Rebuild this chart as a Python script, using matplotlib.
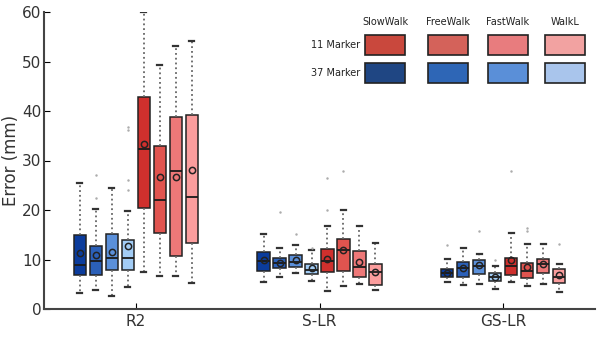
import matplotlib.pyplot as plt
from matplotlib.patches import Rectangle

# methods on the x axis
methods = ['R2', 'S-LR', 'GS-LR']
# box order inside a group: 37 marker (Slow, Free, Fast, WalkL) then 11 marker
conditions = ['SlowWalk', 'FreeWalk', 'FastWalk', 'WalkL']
blue_colors = ['#0b3c9c', '#2b60b8', '#5b90da', '#a2ccf5']
red_colors = ['#cf302d', '#e0544f', '#ee7878', '#fb9d9d']
legend_red = ['#c9483d', '#d4625a', '#e87c7e', '#f2a2a1']
legend_blue = ['#1f4683', '#2e66b6', '#5a8fd8', '#a9c5ec']

# stats per box: whislo, q1, med, q3, whishi, mean
r2_stats = [
    [3.2, 6.9, 8.9, 15.0, 25.5, 11.4],
    [3.8, 6.9, 9.7, 12.7, 20.2, 10.9],
    [2.7, 7.9, 10.4, 15.1, 24.5, 11.6],
    [4.4, 7.9, 10.4, 13.9, 19.7, 12.8],
    [7.4, 20.5, 32.3, 42.9, 60.0, 33.3],
    [6.7, 15.4, 22.0, 32.9, 49.3, 26.7],
    [6.6, 10.7, 27.9, 38.7, 53.1, 26.7],
    [5.3, 13.3, 22.7, 39.1, 54.1, 28.1],
]
slr_stats = [
    [5.5, 7.7, 9.6, 11.6, 15.1, 9.8],
    [6.5, 8.2, 9.2, 10.4, 12.4, 9.2],
    [7.2, 8.4, 9.4, 10.9, 12.9, 10.0],
    [5.7, 7.0, 7.9, 9.1, 11.9, 8.2],
    [3.6, 7.5, 9.6, 12.1, 16.8, 10.2],
    [4.6, 7.7, 11.9, 14.1, 20.1, 11.9],
    [5.1, 6.5, 8.5, 11.7, 16.8, 9.4],
    [3.8, 4.9, 7.4, 9.0, 13.4, 7.4],
]
gslr_stats = [
    [5.4, 6.4, 7.2, 8.0, 10.2, 7.2],
    [4.8, 6.5, 8.2, 9.4, 12.4, 8.3],
    [5.1, 7.1, 8.7, 9.9, 11.1, 8.9],
    [4.0, 5.7, 6.4, 7.2, 8.7, 6.5],
    [5.4, 6.9, 8.7, 10.4, 15.4, 9.8],
    [4.6, 6.2, 7.7, 9.2, 13.1, 8.4],
    [5.1, 7.2, 9.0, 10.2, 13.1, 9.0],
    [3.5, 5.2, 6.4, 8.0, 9.1, 6.9],
]
# outliers per box
r2_fliers = [[], [27.1, 22.4], [], [36.8, 36.2, 26.0, 24.0], [], [], [], []]
slr_fliers = [[], [19.5], [15.2], [12.4], [26.4, 20.1], [27.9], [], []]
gslr_fliers = [[12.9], [], [15.8], [9.9], [27.9], [16.4, 15.8], [], [13.1]]

all_stats = [r2_stats, slr_stats, gslr_stats]
all_fliers = [r2_fliers, slr_fliers, gslr_fliers]
box_colors = blue_colors + red_colors

fig = plt.figure(figsize=(6, 3.37), dpi=100)
ax = fig.add_axes([44 / 600, 1 - 309 / 337, 551 / 600, 297 / 337])

step = 0.087
for g, (stats, fliers) in enumerate(zip(all_stats, all_fliers)):
    bxp = []
    pos = []
    for i, (s, fl) in enumerate(zip(stats, fliers)):
        bxp.append(dict(whislo=s[0], q1=s[1], med=s[2], q3=s[3],
                        whishi=s[4], mean=s[5], fliers=fl))
        pos.append(g + 1 + (i - 3.5) * step)
    res = ax.bxp(bxp, positions=pos, widths=0.068, patch_artist=True,
                 showmeans=True, manage_ticks=False,
                 boxprops=dict(edgecolor='#222222', linewidth=1.1),
                 medianprops=dict(color='#1a1a1a', linewidth=1.3),
                 whiskerprops=dict(color='#666666', linestyle=':', linewidth=1.3),
                 capprops=dict(color='#333333', linewidth=1.6),
                 capwidths=0.028,
                 meanprops=dict(marker='o', markerfacecolor='none',
                                markeredgecolor='#222222', markersize=4.5,
                                markeredgewidth=1.1),
                 flierprops=dict(marker='.', markersize=1.5, color='#aaaaaa',
                                 markeredgecolor='#aaaaaa'))
    for patch, c in zip(res['boxes'], box_colors):
        patch.set_facecolor(c)

ax.set_xlim(0.5, 3.5)
ax.set_ylim(0, 60)
ax.set_xticks([1, 2, 3])
ax.set_xticklabels(methods, fontsize=11, color='#333333')
ax.set_yticks([0, 10, 20, 30, 40, 50, 60])
ax.tick_params(axis='y', labelsize=11, labelcolor='#333333', direction='in',
               length=4, pad=2)
ax.tick_params(axis='x', direction='in', length=4)
ax.set_ylabel('Error (mm)', fontsize=12, color='#333333')
ax.yaxis.set_label_coords(-0.043, 0.5)
for side in ['top', 'right']:
    ax.spines[side].set_visible(False)
for side in ['left', 'bottom']:
    ax.spines[side].set_color('#444444')
    ax.spines[side].set_linewidth(1.5)

# legend table at top right
col_x = [385, 448, 508, 565]
for name, x in zip(conditions, col_x):
    fig.text(x / 600, 1 - 22 / 337, name, ha='center', va='center',
             fontsize=7, color='#222222')
rows = [('11 Marker', 45, legend_red), ('37 Marker', 73, legend_blue)]
for label, y, cols in rows:
    fig.text(360 / 600, 1 - y / 337, label, ha='right', va='center',
             fontsize=7, color='#222222')
    for x, c in zip(col_x, cols):
        fig.add_artist(Rectangle(((x - 20) / 600, 1 - (y + 10) / 337),
                                 40 / 600, 20 / 337, transform=fig.transFigure,
                                 facecolor=c, edgecolor='#222222', linewidth=1.2))

fig.savefig('out.png', dpi=100)
